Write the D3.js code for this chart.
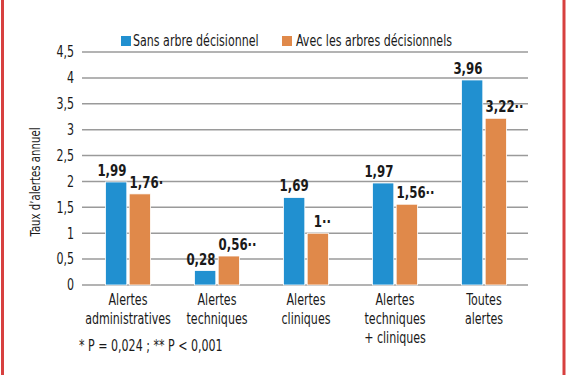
<!DOCTYPE html>
<html><head><meta charset="utf-8">
<script src="https://cdn.jsdelivr.net/npm/d3@7"></script>
<style>
body{margin:0;background:#fff;}
text{font-family:"DejaVu Sans Condensed","DejaVu Sans",sans-serif;font-stretch:condensed;fill:#1a1a1a;}
</style></head>
<body><svg id="c" width="567" height="375"></svg>
<script>
const categories = [["Alertes","administratives"],["Alertes","techniques"],["Alertes","cliniques"],["Alertes","techniques","+ cliniques"],["Toutes","alertes"]];
const seriesNames = ["Sans arbre décisionnel","Avec les arbres décisionnels"];
const sansArbre = [1.99, 0.28, 1.69, 1.97, 3.96];
const avecArbres = [1.76, 0.56, 1, 1.56, 3.22];
const avecStars = ["*", "**", "**", "**", "**"];
const yTicks = [0,0.5,1,1.5,2,2.5,3,3.5,4,4.5];
const footnote = "* P = 0,024 ; ** P < 0,001";
const colors = ["#2190d0","#e0894a"];

const svg = d3.select("#c");
const fmt = v => String(v).replace(".", ",");

const SQ = 0.82;
function narrow(sel, k){
  const q = k || SQ;
  sel.each(function(){
    const n = this, L = n.getComputedTextLength();
    if (L>0) { n.setAttribute("textLength", (L*q).toFixed(2)); n.setAttribute("lengthAdjust","spacingAndGlyphs"); }
  });
}

svg.append("rect").attr("x",1).attr("y",-5).attr("width",3).attr("height",390).attr("fill","#d7403f");
svg.append("rect").attr("x",562.5).attr("y",-5).attr("width",3).attr("height",390).attr("fill","#d7403f");

const y = d3.scaleLinear().domain([0,4.5]).range([285,52]);
const idx = categories.map((d,i)=>i);
const x0 = d3.scaleBand().domain(idx).range([83.5,528.5]).padding(0);
const x1 = d3.scaleBand().domain([0,1]).range([0,45]).paddingInner(0.1);
const off = x0.bandwidth()/2 - 22.5;

svg.append("g").attr("transform","translate(82,0)").call(d3.axisLeft(y).tickValues(yTicks).tickSize(0).tickFormat(fmt).tickPadding(8))
  .call(g=>{g.select(".domain").remove(); g.selectAll("text").attr("font-size",15).attr("fill","#1a1a1a").attr("font-family",null).call(narrow);});
svg.append("g").selectAll("line").data(yTicks).join("line")
  .attr("x1",82).attr("x2",528).attr("y1",d=>y(d)).attr("y2",d=>y(d))
  .attr("stroke","#9a9a9a").attr("stroke-width",1.5);

const series = [sansArbre, avecArbres];
series.forEach((vals,s)=>{
  svg.append("g").selectAll("rect").data(vals).join("rect")
    .attr("x",(d,i)=>x0(i)+off+x1(s))
    .attr("width",x1.bandwidth())
    .attr("y",d=>y(d)).attr("height",d=>y(0)-y(d))
    .attr("fill",colors[s]).attr("stroke","#fff").attr("stroke-width",0.8);
});

// value labels (orange ones carry their significance marks)
const VFS = 16;
categories.forEach((c,i)=>{
  const info = series.map((vals,s)=>{
    const v = vals[i];
    const num = fmt(v);
    const str = s===1 ? num + avecStars[i].replace(/\*/g,"\u00b7") : num;
    const cx = x0(i)+off+x1(s)+x1.bandwidth()/2;
    const t = svg.append("text").attr("y",y(v)-6).attr("font-size",VFS).attr("font-weight","bold").text(str);
    const n = t.node();
    const wn = n.getSubStringLength(0, num.length)*SQ;
    n.setAttribute("textLength",(n.getComputedTextLength()*SQ).toFixed(2));
    n.setAttribute("lengthAdjust","spacingAndGlyphs");
    return {t, cx, wn};
  });
  let sb = 0, so = 0;
  const b = info[0], o = info[1];
  const ov = (b.cx + b.wn/2 + 3) - (o.cx - o.wn/2);
  if (ov > 0) { sb = -ov/2; so = ov/2; }
  b.t.attr("x", b.cx - b.wn/2 + sb);
  o.t.attr("x", o.cx - o.wn/2 + so);
});

categories.forEach((lines,i)=>{
  const cx = x0(i)+x0.bandwidth()/2;
  lines.forEach((l,k)=>svg.append("text").attr("text-anchor","middle").attr("font-size",15)
    .attr("x",cx).attr("y",305+k*19).text(l).call(narrow));
});

svg.append("text").attr("x",79).attr("y",351).attr("font-size",15).text(footnote).call(narrow);

svg.append("text").attr("transform","translate(40,182) rotate(-90)").attr("text-anchor","middle")
  .attr("font-size",14.5).text("Taux d\u2019alertes annuel").call(narrow, 0.78);

const lg = [[121,133],[282,296]];
seriesNames.forEach((n,s)=>{
  svg.append("rect").attr("x",lg[s][0]).attr("y",36).attr("width",10).attr("height",10).attr("fill",colors[s]);
  svg.append("text").attr("x",lg[s][1]).attr("y",46).attr("font-size",15).text(n).call(narrow);
});
</script></body></html>
